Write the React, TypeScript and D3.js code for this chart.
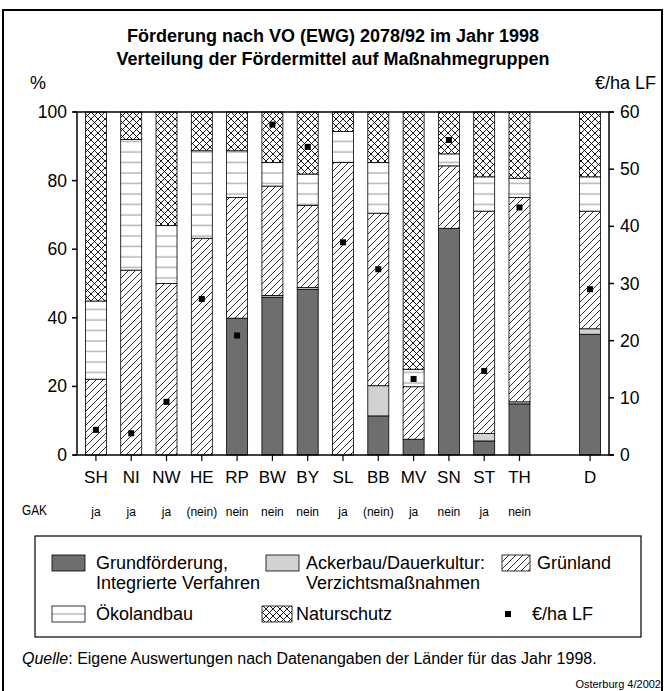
import * as d3 from "d3";

const laender = ["SH", "NI", "NW", "HE", "RP", "BW", "BY", "SL", "BB", "MV", "SN", "ST", "TH", "D"];
const slots = ["SH", "NI", "NW", "HE", "RP", "BW", "BY", "SL", "BB", "MV", "SN", "ST", "TH", "", "D"];

// Anteile in %
const grund = [0, 0, 0, 0, 39.9, 46.0, 48.3, 0, 11.4, 4.6, 66.1, 4.1, 14.9, 35.2];
const ackerbau = [0, 0, 0, 0, 0, 0.5, 0.5, 0, 8.8, 0, 0, 2.2, 0.6, 1.6];
const gruenland = [22.1, 53.9, 50.0, 63.2, 35.2, 31.9, 24.0, 85.3, 50.3, 15.3, 18.2, 64.8, 59.6, 34.3];
const oeko = [22.8, 38.1, 16.9, 25.5, 13.6, 6.9, 9.1, 9.0, 14.8, 5.1, 3.5, 10.0, 5.6, 10.0];
const natur = [55.1, 8.0, 33.1, 11.3, 11.3, 14.7, 18.1, 5.7, 14.7, 75.0, 12.2, 18.9, 19.3, 18.9];

// €/ha LF
const euroHa = [4.4, 3.8, 9.3, 27.3, 20.9, 57.8, 53.9, 37.2, 32.5, 13.3, 55.1, 14.7, 43.3, 29.0];

const gak = ["ja", "ja", "ja", "(nein)", "nein", "nein", "nein", "ja", "(nein)", "ja", "nein", "ja", "nein", ""];

const leftTicks = [0, 20, 40, 60, 80, 100];
const rightTicks = [0, 10, 20, 30, 40, 50, 60];

const keys = ["grund", "ackerbau", "gruenland", "oeko", "natur"];
const fills: Record<string, string> = {
  grund: "#6e6e6e",
  ackerbau: "#d2d2d2",
  gruenland: "url(#hatch)",
  oeko: "url(#oeko)",
  natur: "url(#cross)",
};

const font = "'Liberation Sans', Arial, sans-serif";

export default function App() {
  const width = 667;
  const height = 691;

  const rows = laender.map((l, i) => ({
    land: l,
    grund: grund[i],
    ackerbau: ackerbau[i],
    gruenland: gruenland[i],
    oeko: oeko[i],
    natur: natur[i],
  }));
  const series = d3.stack<any>().keys(keys)(rows);

  const x = d3.scaleBand().domain(slots).range([78, 608]).paddingInner(0.405).paddingOuter(0.21);
  const y = d3.scaleLinear().domain([0, 100]).range([455, 112]);
  const y2 = d3.scaleLinear().domain([0, 60]).range([455, 112]);
  const bw = x.bandwidth();
  const axL = 77;
  const axR = 609;

  return (
    <svg width={width} height={height} style={{ display: "block", position: "absolute", left: 0, top: 0 }} fontFamily={font}>
      <defs>
        <pattern id="hatch" patternUnits="userSpaceOnUse" width={7} height={7}>
          <rect width={7} height={7} fill="#fff" />
          <path d="M0,7 L7,0 M-1,1 L1,-1 M6,8 L8,6" stroke="#000" strokeWidth={0.8} />
        </pattern>
        <pattern id="cross" patternUnits="userSpaceOnUse" width={7} height={7}>
          <rect width={7} height={7} fill="#fff" />
          <path d="M0,7 L7,0 M-1,1 L1,-1 M6,8 L8,6 M0,0 L7,7 M-1,6 L1,8 M6,-1 L8,1" stroke="#000" strokeWidth={0.9} />
        </pattern>
        <pattern id="oeko" patternUnits="userSpaceOnUse" width={10} height={10.5}>
          <rect width={10} height={10.5} fill="#fff" />
          <line x1={0} x2={10} y1={5} y2={5} stroke="#b4b4b4" strokeWidth={1.5} />
        </pattern>
      </defs>

      <rect x={3} y={10} width={659} height={700} fill="none" stroke="#000" strokeWidth={2} />

      <text x={333} y={42} textAnchor="middle" fontSize={18} fontWeight="bold">
        Förderung nach VO (EWG) 2078/92 im Jahr 1998
      </text>
      <text x={333} y={65} textAnchor="middle" fontSize={18} fontWeight="bold">
        Verteilung der Fördermittel auf Maßnahmegruppen
      </text>
      <text x={38} y={89} textAnchor="middle" fontSize={18}>%</text>
      <text x={656} y={89} textAnchor="end" fontSize={18}>€/ha LF</text>

      {/* bars */}
      {series.map((s) =>
        s.map((d, i) => {
          const h = y(d[0]) - y(d[1]);
          if (h <= 0) return null;
          return (
            <rect
              key={s.key + i}
              x={x(laender[i])}
              y={y(d[1])}
              width={bw}
              height={h}
              fill={fills[s.key]}
              stroke="#000"
              strokeWidth={0.8}
            />
          );
        })
      )}

      {/* frame */}
      <line x1={axL} x2={axL} y1={112} y2={455} stroke="#000" strokeWidth={1.5} />
      <line x1={axR} x2={axR} y1={112} y2={455} stroke="#000" strokeWidth={1.5} />
      <line x1={axL - 4} x2={axR + 5} y1={112} y2={112} stroke="#000" strokeWidth={1.5} />
      <line x1={axL - 4} x2={axR + 5} y1={455} y2={455} stroke="#000" strokeWidth={1.5} />

      {leftTicks.map((t) => (
        <g key={"l" + t}>
          <line x1={axL - 5} x2={axL} y1={y(t)} y2={y(t)} stroke="#000" strokeWidth={1.5} />
          <text x={67} y={y(t) + 6} textAnchor="end" fontSize={17.5}>{t}</text>
        </g>
      ))}
      {rightTicks.map((t) => (
        <g key={"r" + t}>
          <line x1={axR} x2={axR + 5} y1={y2(t)} y2={y2(t)} stroke="#000" strokeWidth={1.5} />
          <text x={620} y={y2(t) + 6} fontSize={17.5}>{t}</text>
        </g>
      ))}
      {laender.map((l, i) => (
        <g key={"x" + l}>
          <line x1={x(l)! + bw / 2} x2={x(l)! + bw / 2} y1={455} y2={461} stroke="#000" strokeWidth={1.2} />
          <text x={x(l)! + bw / 2} y={483} textAnchor="middle" fontSize={17}>{l}</text>
          <text x={x(l)! + bw / 2} y={516} textAnchor="middle" fontSize={12}>
            {gak[i]}
          </text>
        </g>
      ))}
      <text x={22} y={515} fontSize={14} textLength={25} lengthAdjust="spacingAndGlyphs">GAK</text>

      {/* €/ha points */}
      {euroHa.map((v, i) => (
        <rect key={"p" + i} x={x(laender[i])! + bw / 2 - 3} y={y2(v) - 3} width={6} height={6} fill="#000" />
      ))}

      {/* legend */}
      <rect x={35} y={536} width={606} height={101} fill="none" stroke="#000" strokeWidth={1.2} />
      <g fontSize={18}>
        <rect x={52} y={555} width={33} height={16} fill={fills.grund} stroke="#000" strokeWidth={0.8} />
        <text x={96} y={569}>Grundförderung,</text>
        <text x={96} y={589}>Integrierte Verfahren</text>

        <rect x={266} y={555} width={33} height={16} fill={fills.ackerbau} stroke="#000" strokeWidth={0.8} />
        <text x={306} y={569}>Ackerbau/Dauerkultur:</text>
        <text x={306} y={589}>Verzichtsmaßnahmen</text>

        <rect x={502} y={555} width={28} height={16} fill={fills.gruenland} stroke="#000" strokeWidth={0.8} />
        <text x={537} y={569}>Grünland</text>

        <rect x={52} y={606} width={33} height={16} fill={fills.oeko} stroke="#000" strokeWidth={0.8} />
        <text x={96} y={620}>Ökolandbau</text>

        <rect x={262} y={606} width={30} height={16} fill={fills.natur} stroke="#000" strokeWidth={0.8} />
        <text x={296} y={620}>Naturschutz</text>

        <rect x={505} y={611} width={6} height={6} fill="#000" />
        <text x={532} y={620}>€/ha LF</text>
      </g>

      <text x={22} y={664} fontSize={16}>
        <tspan fontStyle="italic">Quelle</tspan>: Eigene Auswertungen nach Datenangaben der Länder für das Jahr 1998.
      </text>
      <text x={661} y={688} textAnchor="end" fontSize={11}>Osterburg 4/2002</text>
    </svg>
  );
}
